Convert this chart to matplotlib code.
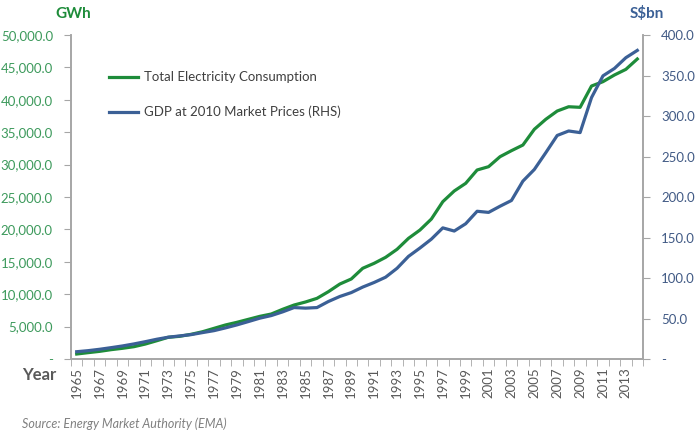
import matplotlib
matplotlib.use("Agg")
import matplotlib.pyplot as plt
from matplotlib.ticker import FuncFormatter, FixedLocator

plt.rcParams['font.family'] = ['Lato', 'DejaVu Sans']

# data
years = list(range(1965, 2015))
electricity_gwh = [770, 980, 1180, 1440, 1650, 1900, 2310, 2820, 3350, 3500,
                   3810, 4210, 4730, 5250, 5660, 6120, 6580, 6940, 7670, 8330,
                   8800, 9360, 10390, 11570, 12350, 14000, 14770, 15690, 16930, 18620,
                   19900, 21600, 24280, 25930, 27110, 29170, 29680, 31220, 32150, 33020,
                   35450, 36990, 38270, 38930, 38840, 42130, 42800, 43830, 44700, 46300]
gdp_bn = [9.0, 10.3, 12.0, 14.0, 16.1, 18.6, 21.4, 24.4, 26.9, 28.5,
          30.1, 32.6, 35.0, 38.4, 42.1, 46.2, 50.4, 53.6, 58.2, 63.5,
          62.8, 63.5, 71.0, 77.2, 82.0, 88.8, 94.5, 101.0, 112.0, 126.7,
          137.0, 148.0, 161.9, 158.0, 167.0, 182.4, 181.0, 188.6, 195.7, 219.6,
          234.0, 254.7, 276.0, 281.5, 279.5, 322.8, 349.6, 358.7, 372.0, 381.0]

green = '#1e8c3a'
blue = '#3b6096'
green_txt = '#3d9a5c'
blue_txt = '#415a85'
gray = '#a6a6a6'

fig = plt.figure(figsize=(7, 4.36), dpi=100)
ax = fig.add_axes([0.1014, 0.1766, 0.8172, 0.7431])
ax2 = ax.twinx()

x = list(range(len(years)))
l1, = ax.plot(x, electricity_gwh, color=green, lw=2.3, solid_joinstyle='round')
l2, = ax2.plot(x, gdp_bn, color=blue, lw=2.3, solid_joinstyle='round')

ax.set_xlim(-0.5, len(years) - 0.5)
ax.set_ylim(0, 50000)
ax2.set_ylim(0, 400)

ax.set_yticks(range(0, 50001, 5000))
ax2.set_yticks(range(0, 401, 50))
ax.yaxis.set_major_formatter(FuncFormatter(lambda v, p: '-' if v == 0 else f'{v:,.1f}'))
ax2.yaxis.set_major_formatter(FuncFormatter(lambda v, p: '-' if v == 0 else f'{v:,.1f}'))

ax.set_xticks(x[::2])
ax.set_xticklabels([str(y) for y in years[::2]], rotation=90)
ax.xaxis.set_minor_locator(FixedLocator([i - 0.5 for i in range(len(years) + 1)]))
ax.tick_params(axis='x', which='major', length=0, pad=6, labelsize=9.5, labelcolor='#595959')
ax.tick_params(axis='x', which='minor', length=5, color=gray, direction='out')
ax.tick_params(axis='y', length=5, color=gray, labelsize=9.5, labelcolor=green_txt, pad=8)
ax2.tick_params(axis='y', length=5, color=gray, labelsize=9.5, labelcolor=blue_txt, pad=8)

for a in (ax, ax2):
    a.spines['top'].set_visible(False)
    for s in ('left', 'right', 'bottom'):
        a.spines[s].set_color(gray)
        a.spines[s].set_linewidth(1.2)

ax.legend([l1, l2], ['Total Electricity Consumption', 'GDP at 2010 Market Prices (RHS)'],
          loc='upper left', bbox_to_anchor=(0.045, 0.925), frameon=False,
          fontsize=9.5, handlelength=2.2, handletextpad=0.5, labelspacing=1.7,
          labelcolor='#404040')

fig.text(0.079, 0.968, 'GWh', color=green, fontsize=11, fontweight='bold', ha='left', va='center')
fig.text(0.90, 0.968, 'S$bn', color=blue, fontsize=11, fontweight='bold', ha='left', va='center')
fig.text(0.031, 0.139, 'Year', color='#595959', fontsize=12, fontweight='bold', ha='left', va='center')
fig.text(0.031, 0.028, 'Source: Energy Market Authority (EMA)', color='#808080', fontsize=9,
         style='italic', ha='left', va='center')

fig.savefig('out.png', dpi=100)
